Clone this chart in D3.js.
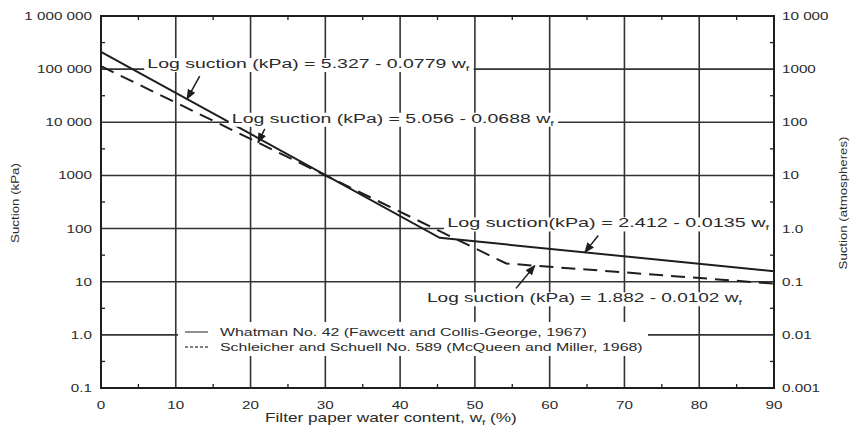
<!DOCTYPE html>
<html>
<head>
<meta charset="utf-8">
<script src="https://cdn.jsdelivr.net/npm/d3@7"></script>
<style>
body{margin:0;background:#fff}
text{font-family:"Liberation Sans",Arial,sans-serif;fill:#2a2a2a}
</style>
</head>
<body>
<div id="chart"></div>
<script>
var w = 853
var h = 428

// series: filter paper water content (%) vs suction (kPa)
var whatmanW = [0, 45.3, 90]
var whatmanS = [212000, 67, 15.7]
var schleicherW = [0, 54.2, 90]
var schleicherS = [113800, 22, 9.2]

var xTicks = [0, 10, 20, 30, 40, 50, 60, 70, 80, 90]
var kpaTicks = [1e6, 1e5, 1e4, 1000, 100, 10, 1, 0.1]
var kpaLabels = ["1 000 000", "100 000", "10 000", "1000", "100", "10", "1.0", "0.1"]
var atmTicks = [10000, 1000, 100, 10, 1, 0.1, 0.01, 0.001]
var atmLabels = ["10 000", "1000", "100", "10", "1.0", "0.1", "0.01", "0.001"]

var legendNames = ["Whatman No. 42 (Fawcett and Collis-George, 1967)",
                   "Schleicher and Schuell No. 589 (McQueen and Miller, 1968)"]

// equations, where the text sits, where the arrow starts and which w it points at
var eqText = ["Log suction  (kPa) = 5.327 - 0.0779 w", "Log suction  (kPa) = 5.056 - 0.0688 w",
              "Log suction(kPa) = 2.412 - 0.0135 w", "Log suction  (kPa) = 1.882 - 0.0102 w"]
var eqSeries = [0, 1, 0, 1]
var eqTextW = [6.2, 17.5, 46.3, 43.6]
var eqTextS = [1.05e5, 9800, 105, 4.1]
var eqTailW = [13.2, 21.9, 66.5, 55.5]
var eqTailS = [74000, 7500, 74, 7.5]
var eqTipW = [11.5, 21, 64.7, 58]

var svg = d3.select("#chart").append("svg").attr("width", w).attr("height", h)

var x = d3.scaleLinear().domain([0, 90]).range([101, 774])
var y = d3.scaleLog().domain([0.1, 1e6]).range([388, 16])
var y2 = d3.scaleLog().domain([0.001, 10000]).range([388, 16])

var dark = "#1e1e1e"

// text in the scan is a wide face: stretch it sideways
function wideText(parent, px, py, str, size, sx, anchor, rot){
    var g = parent.append("g")
        .attr("transform", "translate(" + px + "," + py + ")" + (rot ? " rotate(" + rot + ")" : "") + " scale(" + sx + ",1)")
    var t = g.append("text").attr("font-size", size).attr("text-anchor", anchor || "start")
    if(str != null) t.text(str)
    return {g: g, t: t}
}
function fitWidth(o, target){
    var n = o.t.node().getComputedTextLength()
    var tr = o.g.attr("transform").replace(/scale\([^)]*\)/, "scale(" + (target / n) + ",1)")
    o.g.attr("transform", tr)
}

// grid
svg.selectAll(".vgrid").data(xTicks.slice(1, -1)).enter().append("line")
    .attr("x1", function(d){return x(d)}).attr("x2", function(d){return x(d)})
    .attr("y1", y(1e6)).attr("y2", y(0.1))
    .attr("stroke", "#333").attr("stroke-width", 1.6)
svg.selectAll(".hgrid").data(kpaTicks.slice(1, -1)).enter().append("line")
    .attr("x1", x(0)).attr("x2", x(90))
    .attr("y1", function(d){return y(d)}).attr("y2", function(d){return y(d)})
    .attr("stroke", "#333").attr("stroke-width", 1.6)

// minor ticks
var minorX = d3.range(5, 90, 10)
var minorY = [0.316, 3.16, 31.6, 316, 3160, 31600, 316000]
minorX.forEach(function(d){
    svg.append("line").attr("x1", x(d)).attr("x2", x(d)).attr("y1", y(0.1)).attr("y2", y(0.1) - 4).attr("stroke", dark).attr("stroke-width", 1.3)
    svg.append("line").attr("x1", x(d)).attr("x2", x(d)).attr("y1", y(1e6)).attr("y2", y(1e6) + 4).attr("stroke", dark).attr("stroke-width", 1.3)
})
minorY.forEach(function(d){
    svg.append("line").attr("x1", x(0)).attr("x2", x(0) + 4).attr("y1", y(d)).attr("y2", y(d)).attr("stroke", dark).attr("stroke-width", 1.3)
    svg.append("line").attr("x1", x(90)).attr("x2", x(90) - 4).attr("y1", y(d)).attr("y2", y(d)).attr("stroke", dark).attr("stroke-width", 1.3)
})

// legend box (covers grid)
var lg = svg.append("g")
lg.append("rect").attr("x", 178).attr("y", 322).attr("width", 470).attr("height", 34).attr("fill", "#fff")
var legendWidths = [367, 423]
legendNames.forEach(function(name, i){
    var yy = 332 + i * 15
    lg.append("line").attr("x1", 185).attr("x2", 208).attr("y1", yy).attr("y2", yy)
        .attr("stroke", "#555").attr("stroke-width", 1.3)
        .attr("stroke-dasharray", i == 0 ? null : "3,2")
    var o = wideText(lg, 220, yy + 4, name, 11.5, 1)
    fitWidth(o, legendWidths[i])
})

// curves
var line = d3.line().x(function(d){return x(d[0])}).y(function(d){return y(d[1])})
var series = [d3.zip(whatmanW, whatmanS), d3.zip(schleicherW, schleicherS)]
svg.append("path").datum(series[0]).attr("d", line).attr("fill", "none")
    .attr("stroke", dark).attr("stroke-width", 2)
svg.append("path").datum(series[1]).attr("d", line).attr("fill", "none")
    .attr("stroke", dark).attr("stroke-width", 2).attr("stroke-dasharray", "14,8")

function valueAt(s, wv){
    for(var i = 1; i < s.length; i++){
        if(wv <= s[i][0]){
            var t = (wv - s[i-1][0]) / (s[i][0] - s[i-1][0])
            return Math.pow(10, Math.log10(s[i-1][1]) + t * (Math.log10(s[i][1]) - Math.log10(s[i-1][1])))
        }
    }
    return s[s.length-1][1]
}

// arrowhead
svg.append("defs").append("marker").attr("id", "arr")
    .attr("viewBox", "0 0 10 10").attr("refX", 9).attr("refY", 5)
    .attr("markerWidth", 7).attr("markerHeight", 7).attr("orient", "auto")
    .append("path").attr("d", "M0,1 L10,5 L0,9 Z").attr("fill", dark)

// equations
var eqWidths = [322, 322, 322, 315]
eqText.forEach(function(t, i){
    var o = wideText(svg, x(eqTextW[i]), y(eqTextS[i]), null, 12.5, 1)
    o.t.append("tspan").text(t)
    o.t.append("tspan").attr("font-size", 8).attr("dy", 3).text("f")
    var bb = o.t.node().getBBox()
    o.g.insert("rect", "text").attr("x", bb.x - 2).attr("y", bb.y + 1).attr("width", bb.width + 4).attr("height", bb.height - 2).attr("fill", "#fff")
    fitWidth(o, eqWidths[i])
    var wv = eqTipW[i]
    svg.append("line").attr("x1", x(eqTailW[i])).attr("y1", y(eqTailS[i]))
        .attr("x2", x(wv)).attr("y2", y(valueAt(series[eqSeries[i]], wv)))
        .attr("stroke", dark).attr("stroke-width", 1.5).attr("marker-end", "url(#arr)")
})

// frame
svg.append("rect").attr("x", x(0)).attr("y", y(1e6)).attr("width", x(90) - x(0)).attr("height", y(0.1) - y(1e6))
    .attr("fill", "none").attr("stroke", dark).attr("stroke-width", 2)

// tick labels
xTicks.forEach(function(d){
    wideText(svg, x(d), 409, String(d), 10.5, 1.45, "middle")
})
kpaTicks.forEach(function(d, i){
    wideText(svg, 92, y(d) + 4, kpaLabels[i], 10.5, 1.45, "end")
})
atmTicks.forEach(function(d, i){
    wideText(svg, 782, y2(d) + 4, atmLabels[i], 10.5, 1.45, "start")
})

// axis titles
var yt = wideText(svg, 19, 203, "Suction (kPa)", 10.5, 1, "middle", -90)
fitWidth(yt, 80)
var yt2 = wideText(svg, 847, 203, "Suction (atmospheres)", 10.5, 1, "middle", -90)
fitWidth(yt2, 133)
var xt = wideText(svg, 265, 422, null, 12, 1)
xt.t.append("tspan").text("Filter paper water content, w")
xt.t.append("tspan").attr("font-size", 8).attr("dy", 3).text("f")
xt.t.append("tspan").attr("dy", -3).text(" (%)")
fitWidth(xt, 252)
</script>
</body>
</html>
